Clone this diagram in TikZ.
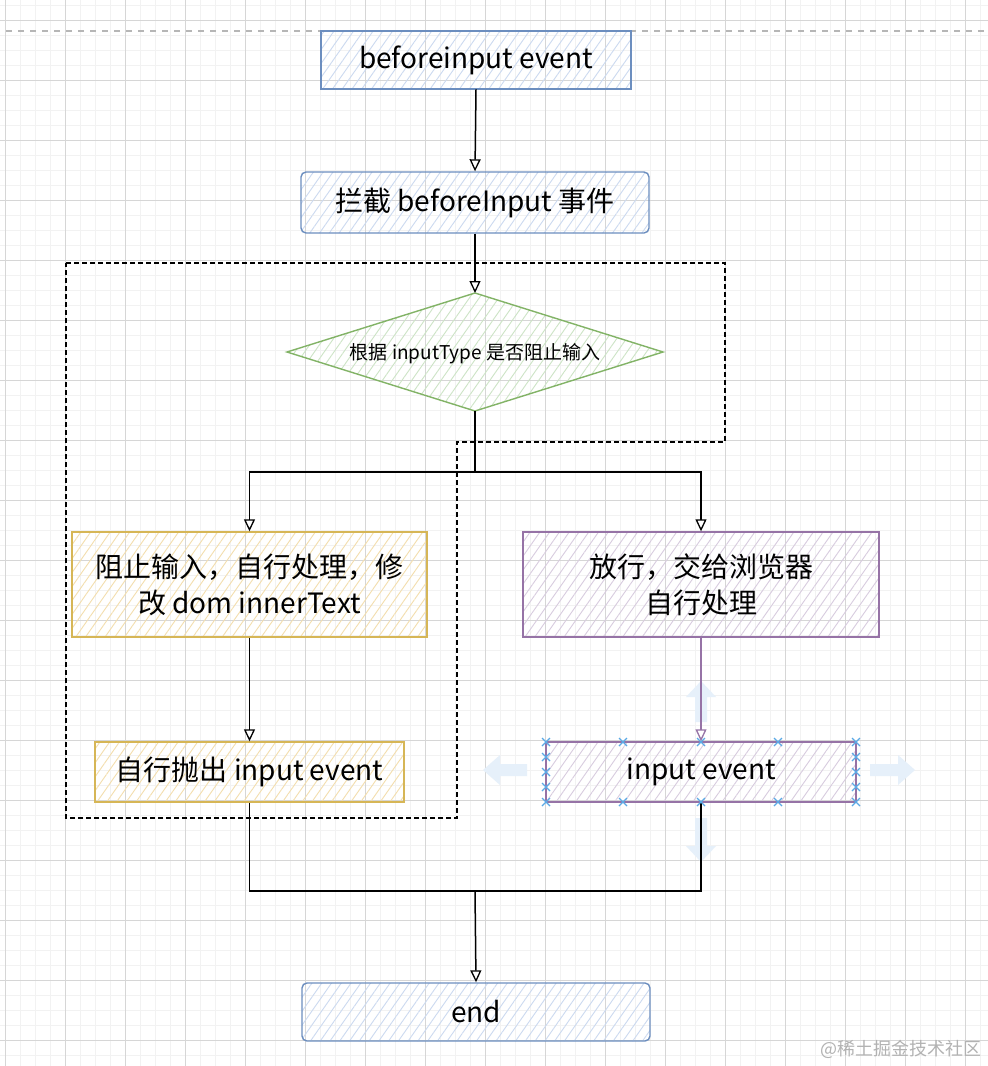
\documentclass[tikz,border=0pt]{standalone}
\usepackage{fontspec}
\setmainfont{Noto Sans CJK SC}
\usetikzlibrary{arrows.meta,patterns.meta}
\definecolor{bstroke}{HTML}{6C8EBF}
\definecolor{bfill}{HTML}{EDF2FA}
\definecolor{bhatch}{HTML}{CCDAF0}
\definecolor{gstroke}{HTML}{82B366}
\definecolor{gfill}{HTML}{EDF5EA}
\definecolor{ghatch}{HTML}{CDE4C6}
\definecolor{ostroke}{HTML}{D6B656}
\definecolor{ofill}{HTML}{FFF7E3}
\definecolor{ohatch}{HTML}{F3DEAE}
\definecolor{pstroke}{HTML}{9673A6}
\definecolor{pfill}{HTML}{F0EBF3}
\definecolor{phatch}{HTML}{D8CCDF}
\definecolor{gridmajor}{HTML}{D6D6D6}
\definecolor{gridminor}{HTML}{F2F2F2}
\definecolor{handleblue}{HTML}{5AA9E6}
\definecolor{hoverblue}{HTML}{E6F0FA}
\begin{document}
\begin{tikzpicture}[x=1pt,y=-1pt,
  box/.style={draw, line width=1.4pt, inner sep=0pt, align=center,
    font=\fontsize{28}{36}\selectfont},
  bluebox/.style={box, draw=bstroke, fill=bfill, pattern color=bhatch,
    pattern={Lines[angle=55,distance=8pt,line width=0.9pt]}},
  orangebox/.style={box, draw=ostroke, fill=ofill, pattern color=ohatch,
    pattern={Lines[angle=55,distance=8pt,line width=0.9pt]}},
  purplebox/.style={box, draw=pstroke, fill=pfill, pattern color=phatch,
    pattern={Lines[angle=55,distance=8pt,line width=0.9pt]}},
  conn/.style={line width=1.5pt, black},
  arr/.style={conn, -{Triangle[open,length=12pt,width=11pt,line width=1.3pt]}},
  handle/.style={handleblue, line width=1.1pt},
  hover/.style={fill=hoverblue, draw=none}
]
\useasboundingbox (0,0) rectangle (988,1066);
\fill[white] (0,0) rectangle (988,1066);
% grid
\foreach \x in {5.7,20.7,...,990} \draw[gridminor, line width=0.8pt] (\x,0) -- (\x,1066);
\foreach \y in {5.7,20.7,...,1070} \draw[gridminor, line width=0.8pt] (0,\y) -- (988,\y);
\foreach \x in {5.7,65.7,...,990} \draw[gridmajor, line width=0.9pt] (\x,0) -- (\x,1066);
\foreach \y in {20.7,80.7,...,1070} \draw[gridmajor, line width=0.9pt] (0,\y) -- (988,\y);
% top gray dashed line
\draw[gridmajor!85!black, line width=1.3pt, dash pattern=on 6pt off 6pt] (6,31) -- (988,31);

% dashed group outline
\draw[black, line width=1.4pt, dash pattern=on 5pt off 3pt]
  (66,263) -- (725,263) -- (725,442) -- (457,442) -- (457,818) -- (66,818) -- cycle;

% nodes
\node[bluebox, minimum width=310, minimum height=58] (top) at (476,60) {beforeinput event};
\node[bluebox, rounded corners=5pt, minimum width=348, minimum height=61] (intercept) at (475,202.5) {拦截 beforeInput 事件};

\coordinate (dtop) at (475,293);
\coordinate (dbot) at (475,411);
\coordinate (dleft) at (287,352);
\coordinate (dright) at (663,352);
\path[draw=gstroke, line width=1.4pt, fill=gfill, pattern color=ghatch,
  pattern={Lines[angle=55,distance=8pt,line width=0.9pt]}]
  (dleft) -- (dtop) -- (dright) -- (dbot) -- cycle;
\node[font=\fontsize{19}{24}\selectfont, inner sep=0pt] (dtext) at (475,354) {根据 inputType 是否阻止输入};

\node[orangebox, minimum width=355, minimum height=105] (leftbox) at (249.5,584.5) {阻止输入，自行处理，修\\改 dom innerText};
\node[purplebox, minimum width=356, minimum height=105] (rightbox) at (701,584.5) {放行，交给浏览器\\自行处理};
\node[orangebox, minimum width=309, minimum height=60] (leftlow) at (249.5,772) {自行抛出 input event};

% hover arrows around the selected node
\path[hover] (483,770) -- (500,755) -- (500,764) -- (527,764) -- (527,776) -- (500,776) -- (500,785) -- cycle;
\path[hover] (915,770) -- (898,755) -- (898,764) -- (870,764) -- (870,776) -- (898,776) -- (898,785) -- cycle;
\path[hover] (701,681) -- (686,697) -- (695,697) -- (695,722) -- (707,722) -- (707,697) -- (716,697) -- cycle;
\path[hover] (701,862) -- (686,846) -- (695,846) -- (695,818) -- (707,818) -- (707,846) -- (716,846) -- cycle;

\node[purplebox, minimum width=310, minimum height=60] (rightlow) at (701,772) {input event};
\node[bluebox, rounded corners=5pt, minimum width=348, minimum height=58] (end) at (476,1012) {end};

% connectors
\draw[arr] (top.south) -- (intercept.north);
\draw[arr] (intercept.south) -- (dtop);
\coordinate (split) at (475,472);
\draw[conn] (dbot) -- (split);
\draw[arr] (split) -| (leftbox.north);
\draw[arr] (split) -| (rightbox.north);
\draw[arr] (leftbox.south) -- (leftlow.north);
\draw[arr, draw=pstroke] (rightbox.south) -- (rightlow.north);
\coordinate (merge) at (475,891);
\draw[conn] (leftlow.south) |- (merge);
\draw[conn] (rightlow.south) |- (merge);
\draw[arr] (merge) -- (end.north);

% selection handles
\foreach \x/\y in {546/742,623/742,701/742,778/742,856/742,
                   546/802,623/802,701/802,778/802,856/802,
                   546/757,546/772,546/787,856/757,856/772,856/787}
  \draw[handle] (\x-4,\y-4) -- (\x+4,\y+4) (\x-4,\y+4) -- (\x+4,\y-4);

% watermark
\node[text=black!30, font=\fontsize{18}{22}\selectfont, inner sep=0pt] (wm) at (901,1049) {@稀土掘金技术社区};
\end{tikzpicture}
\end{document}
